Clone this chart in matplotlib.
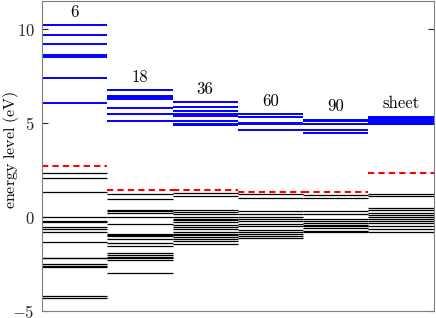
import numpy as np
import matplotlib
matplotlib.use('Agg')
import matplotlib.pyplot as plt

plt.rcParams['font.family'] = 'cmr10'
plt.rcParams['mathtext.fontset'] = 'cm'
plt.rcParams['axes.formatter.use_mathtext'] = True

# cluster sizes (columns)
labels = ['6', '18', '36', '60', '90', 'sheet']

# unoccupied levels (eV)
empty_levels = [
    [10.2, 9.67, 9.19, 8.64, 8.52, 7.41, 6.06],
    [6.74, 6.46, 6.37, 6.28, 5.82, 5.5, 5.1],
    [6.1, 5.85, 5.64, 5.5, 5.39, 5.1, 4.97, 4.88],
    [5.46, 5.32, 5.0, 4.93, 4.65],
    [5.18, 5.1, 4.93, 4.65, 4.47],
    [5.35, 5.28, 5.2, 5.12, 5.05, 4.97, 4.93],
]

# occupied levels (eV)
filled_levels = [
    [2.34, 2.07, 1.33, 0.0, -0.2, -0.28, -0.55, -0.65, -0.8, -1.35,
     -2.16, -2.2, -2.5, -2.58, -2.66, -4.2, -4.29],
    [1.24, 0.96, 0.39, 0.3, 0.21, 0.0, -0.35, -0.88, -0.95, -1.02, -1.15,
     -1.38, -1.56, -1.91, -2.0, -2.1, -2.2, -2.27, -2.98],
    [1.28, 1.1, 0.36, 0.27, 0.18, 0.0, -0.09, -0.18, -0.27, -0.44, -0.55,
     -0.66, -0.77, -0.88, -0.97, -1.07, -1.18, -1.3, -1.42],
    [1.21, 1.03, 0.32, 0.18, 0.0, -0.1, -0.23, -0.37, -0.5, -0.7, -0.8,
     -0.9, -1.0, -1.1],
    [1.15, 1.01, 0.3, 0.14, -0.09, -0.2, -0.3, -0.4, -0.5, -0.6, -0.72, -0.8],
    [1.24, 1.1, 0.48, 0.36, 0.21, 0.13, 0.0, -0.1, -0.2, -0.33, -0.5,
     -0.65, -0.8],
]

# Fermi level (eV)
fermi = [2.71, 1.46, 1.42, 1.33, 1.33, 2.36]

fig = plt.figure(figsize=(4.36, 3.18), dpi=100)
ax = fig.add_axes([0.096, 0.022, 0.899, 0.975])

for i in range(len(labels)):
    ax.hlines(filled_levels[i], i, i + 1, color='black', linewidth=0.9)
    ax.hlines(empty_levels[i], i, i + 1, color='#0000ff', linewidth=1.4)
    ax.hlines(fermi[i], i, i + 1, color='red', linewidth=1.5,
              linestyles=(0, (3, 2)))
    ax.text(i + 0.5, max(empty_levels[i]) + 0.72, labels[i],
            ha='center', va='center', fontsize=12)

ax.set_xlim(0, 6)
ax.set_ylim(-5, 11.5)
ax.set_xticks([])
ax.set_yticks([-5, 0, 5, 10])
ax.tick_params(axis='y', direction='in', right=True, length=4, pad=5,
               labelsize=12, colors='0.15')
for s in ax.spines.values():
    s.set_color('0.5')
ax.set_ylabel(r'$\mathrm{energy\ level\ (eV)}$', fontsize=11.5)
ax.yaxis.set_label_coords(-0.054, 0.52)

plt.savefig('out.png', dpi=100)
